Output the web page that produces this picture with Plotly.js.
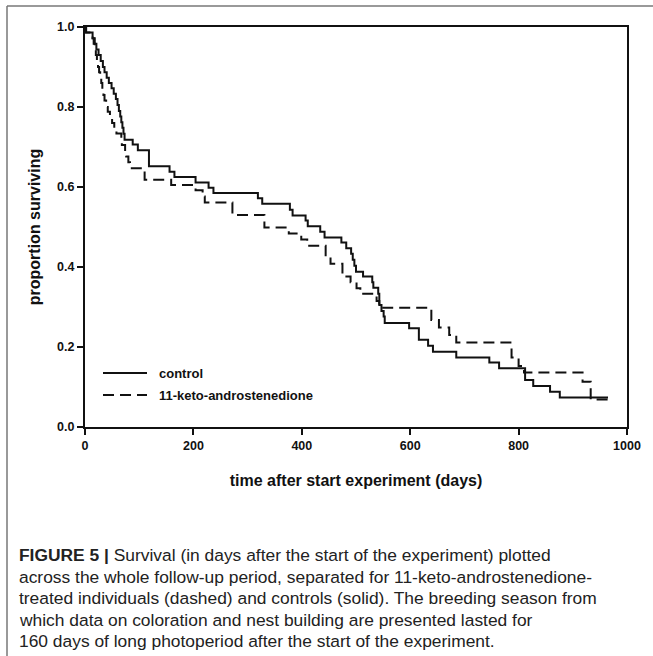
<!DOCTYPE html>
<html>
<head>
<meta charset="utf-8">
<script src="https://cdn.plot.ly/plotly-3.0.1.min.js"></script>
<style>html,body{margin:0;padding:0;background:#fff;}#chart{width:653px;height:656px;}</style>
</head>
<body>
<div id="chart"></div>
<script>
// Control (solid) Kaplan-Meier steps
const controlDays = [0, 2, 14, 18, 21, 25, 29, 33, 36, 40, 44, 49, 53, 57, 60, 62.5, 65, 67, 69, 71, 73, 88, 97.5, 118, 156, 165, 204, 228, 237, 319, 327, 378, 383, 407, 411, 434, 442, 473, 482, 491, 494, 497, 500, 513, 530, 532, 541, 543, 547, 551, 553, 598, 616, 633, 642, 685, 746, 764, 812, 827, 858, 876, 965];
const controlSurv = [1.0, 0.986, 0.972, 0.958, 0.944, 0.93, 0.915, 0.90, 0.887, 0.873, 0.86, 0.847, 0.833, 0.82, 0.805, 0.79, 0.776, 0.762, 0.748, 0.733, 0.718, 0.706, 0.692, 0.652, 0.638, 0.625, 0.611, 0.598, 0.585, 0.572, 0.558, 0.543, 0.529, 0.516, 0.502, 0.488, 0.474, 0.461, 0.447, 0.433, 0.418, 0.403, 0.388, 0.376, 0.362, 0.348, 0.333, 0.305, 0.29, 0.276, 0.26, 0.247, 0.218, 0.203, 0.188, 0.174, 0.161, 0.147, 0.1175, 0.1025, 0.088, 0.074, 0.074];
// 11-keto-androstenedione (dashed)
const ketoDays = [0, 2, 14, 16, 18, 20, 22, 24, 26, 28, 30, 32, 34, 36, 39, 42, 46, 50, 54, 58, 67, 68, 74, 76, 80, 83, 110, 159, 204, 217, 221, 272, 331, 376, 399, 410, 444, 453, 475, 490, 501, 508, 538, 543, 639, 653, 672, 685, 787, 800, 810, 918, 933, 965];
const ketoSurv = [1.0, 0.986, 0.972, 0.958, 0.944, 0.93, 0.915, 0.90, 0.887, 0.873, 0.86, 0.845, 0.83, 0.816, 0.80, 0.788, 0.774, 0.76, 0.748, 0.734, 0.72, 0.705, 0.69, 0.676, 0.662, 0.647, 0.618, 0.605, 0.592, 0.576, 0.561, 0.53, 0.499, 0.484, 0.469, 0.453, 0.424, 0.408, 0.376, 0.362, 0.347, 0.333, 0.315, 0.298, 0.2675, 0.249, 0.23, 0.211, 0.174, 0.1525, 0.136, 0.113, 0.069, 0.069];

const xTicks = [0, 200, 400, 600, 800, 1000];
const yTicks = [0, 0.2, 0.4, 0.6, 0.8, 1.0];
const yTickLabels = ["0.0", "0.2", "0.4", "0.6", "0.8", "1.0"];
const seriesNames = ["control", "11-keto-androstenedione"];
const xTitle = "time after start experiment (days)";
const yTitle = "proportion surviving";
const captionLines = [
  "<b>FIGURE 5 |</b> Survival (in days after the start of the experiment) plotted",
  "across the whole follow-up period, separated for 11-keto-androstenedione-",
  "treated individuals (dashed) and controls (solid). The breeding season from",
  "which data on coloration and nest building are presented lasted for",
  "160 days of long photoperiod after the start of the experiment."
];

const L = 85, R = 26, T = 27, B = 229, W = 653, H = 656;
const pw = W - L - R, ph = H - T - B;
const px = x => (x - L) / pw;
const py = y => (H - B - y) / ph;

const traces = [
  {x: controlDays, y: controlSurv, type: 'scatter', mode: 'lines', line: {shape: 'hv', color: '#111', width: 2}, name: seriesNames[0], showlegend: false},
  {x: ketoDays, y: ketoSurv, type: 'scatter', mode: 'lines', line: {shape: 'hv', color: '#111', width: 2, dash: '11px,6px'}, name: seriesNames[1], showlegend: false}
];

const shapes = [
  // outer frame
  {type: 'line', xref: 'paper', yref: 'paper', x0: px(7), x1: px(7), y0: py(6), y1: py(656), line: {color: '#777', width: 1.5}},
  {type: 'line', xref: 'paper', yref: 'paper', x0: px(7), x1: px(653), y0: py(6), y1: py(6), line: {color: '#777', width: 1.5}},
  // legend lines
  {type: 'line', xref: 'paper', yref: 'paper', x0: px(103), x1: px(147), y0: py(373), y1: py(373), line: {color: '#111', width: 2}},
  {type: 'line', xref: 'paper', yref: 'paper', x0: px(103), x1: px(147), y0: py(395), y1: py(395), line: {color: '#111', width: 2, dash: '11px,6px'}}
];

const annotations = [
  {xref: 'paper', yref: 'paper', x: px(157), y: py(373), xanchor: 'left', yanchor: 'middle', showarrow: false, text: '<b>' + seriesNames[0] + '</b>', font: {family: 'Liberation Sans, Arial, sans-serif', size: 13, color: '#111'}},
  {xref: 'paper', yref: 'paper', x: px(157), y: py(395), xanchor: 'left', yanchor: 'middle', showarrow: false, text: '<b>' + seriesNames[1] + '</b>', font: {family: 'Liberation Sans, Arial, sans-serif', size: 13, color: '#111'}}
];
const capY = [555, 576.5, 598, 619.5, 641];
captionLines.forEach((t, i) => {
  annotations.push({xref: 'paper', yref: 'paper', x: px(17), y: py(capY[i]), xanchor: 'left', yanchor: 'middle', showarrow: false, text: t, align: 'left', font: {family: 'Liberation Sans, Arial, sans-serif', size: 17.4, color: '#222'}});
});

const layout = {
  width: W, height: H,
  margin: {l: L, r: R, t: T, b: B, pad: 0},
  paper_bgcolor: '#fff', plot_bgcolor: '#fff',
  showlegend: false,
  font: {family: 'Liberation Sans, Arial, sans-serif', color: '#111'},
  xaxis: {
    range: [0, 1000], tickvals: xTicks, ticktext: xTicks.map(v => '<b>' + v + '</b>'),
    showgrid: false, zeroline: false, showline: true, mirror: true, linecolor: '#111', linewidth: 2,
    ticks: 'outside', ticklen: 6, tickwidth: 2, tickcolor: '#111',
    tickfont: {size: 12.5, color: '#111'},
    title: {text: '<b>' + xTitle + '</b>', font: {size: 16, color: '#111'}, standoff: 23}
  },
  yaxis: {
    range: [0, 1.0], tickvals: yTicks, ticktext: yTickLabels.map(v => '<b>' + v + '</b>'),
    showgrid: false, zeroline: false, showline: true, mirror: true, linecolor: '#111', linewidth: 2,
    ticks: 'outside', ticklen: 6, tickwidth: 2, tickcolor: '#111',
    tickfont: {size: 12.5, color: '#111'},
    title: {text: '<b>' + yTitle + '</b>', font: {size: 16, color: '#111'}, standoff: 13}
  },
  shapes: shapes,
  annotations: annotations
};

Plotly.newPlot('chart', traces, layout, {displayModeBar: false, staticPlot: true});
</script>
</body>
</html>
